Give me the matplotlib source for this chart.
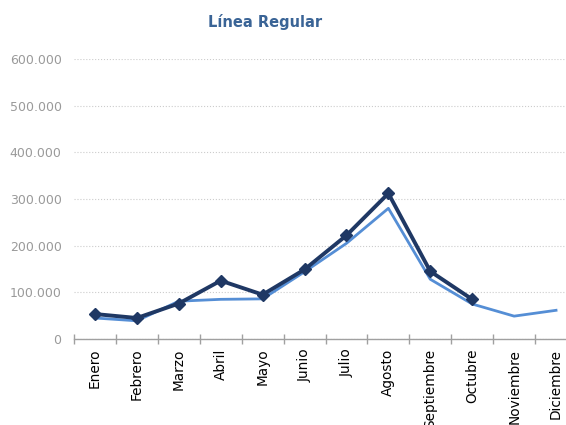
import matplotlib
matplotlib.use("Agg")
import matplotlib.pyplot as plt
from matplotlib.ticker import FuncFormatter, MultipleLocator

meses = ["Enero", "Febrero", "Marzo", "Abril", "Mayo", "Junio", "Julio",
         "Agosto", "Septiembre", "Octubre", "Noviembre", "Diciembre"]

# serie clara (año completo)
serie_clara = [45000, 39000, 81000, 85000, 86000, 144000, 205000,
               280000, 128000, 75000, 49000, 61500]

# serie oscura con marcadores (hasta octubre)
serie_oscura = [53500, 45000, 76000, 125000, 95000, 149000, 222000,
                312000, 145000, 85000]

plt.rcParams['font.family'] = 'DejaVu Sans'

fig = plt.figure(figsize=(5.66, 4.25), dpi=100)
ax = fig.add_axes([74 / 566, 1 - 339 / 425, 503 / 566, 280 / 425])

x_clara = list(range(len(serie_clara)))
x_oscura = list(range(len(serie_oscura)))

ax.plot(x_clara, serie_clara, color='#558ed5', lw=2, zorder=3)
ax.plot(x_oscura, serie_oscura, color='#1f3864', lw=2.8, marker='D',
        markersize=6.5, zorder=4)

ax.set_xlim(-0.5, 11.5)
ax.set_ylim(0, 600000)

ax.yaxis.set_major_locator(MultipleLocator(100000))
ax.yaxis.set_major_formatter(FuncFormatter(lambda v, p: f"{int(v):,}".replace(",", ".")))
ax.tick_params(axis='y', length=0, pad=9, labelsize=9, labelcolor='#9a9a9a')
ax.grid(axis='y', color='#cccccc', linestyle=':', linewidth=0.8)
ax.set_axisbelow(True)

ax.set_xticks(x_clara)
ax.set_xticklabels(meses, rotation=90, fontsize=9.8)
ax.set_xticks([i - 0.5 for i in range(13)], minor=True)
ax.tick_params(axis='x', which='major', length=0, pad=7)
ax.tick_params(axis='x', which='minor', direction='inout', length=7,
               color='#a0a0a0', width=1)

for s in ['top', 'right', 'left']:
    ax.spines[s].set_visible(False)
ax.spines['bottom'].set_color('#a0a0a0')
ax.spines['bottom'].set_linewidth(1)

fig.text(265 / 566, 1 - 22 / 425, "Línea Regular", ha='center', va='center',
         fontsize=10.5, fontweight='bold', color='#3a6496')

fig.savefig("out.png", dpi=100)
